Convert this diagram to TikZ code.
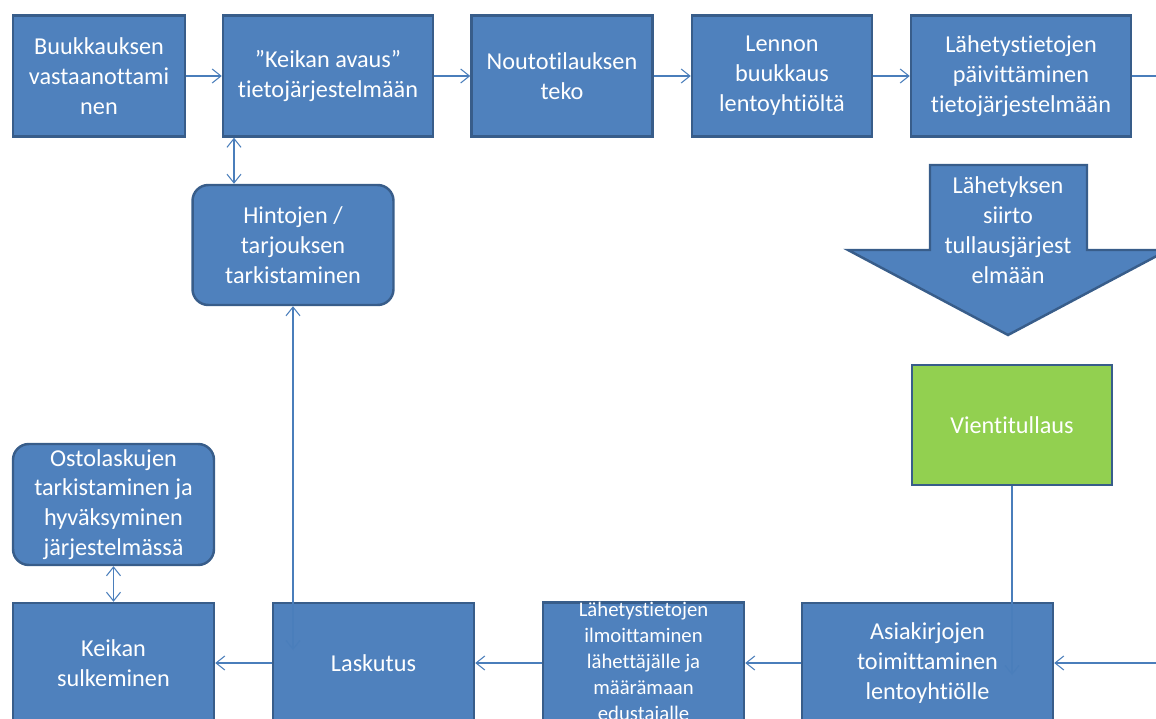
\documentclass[tikz,border=0pt]{standalone}
\usepackage{fontspec}
\setmainfont{Carlito}[Ligatures=NoCommon]
\usetikzlibrary{arrows.meta}
\definecolor{BoxBlue}{RGB}{79,129,189}
\definecolor{BoxEdge}{RGB}{56,93,138}
\definecolor{LineBlue}{RGB}{74,126,187}
\definecolor{CustGreen}{RGB}{146,208,80}

\begin{document}
\begin{tikzpicture}[x=0.02cm, y=-0.02cm,
    stage/.style={rectangle, draw=BoxEdge, line width=1.4pt, fill=BoxBlue,
                  text=white, minimum height=2.42cm, align=center, inner sep=1pt,
                  font=\fontsize{13.8}{17}\selectfont},
    check/.style={stage, rounded corners=9pt},
    arr/.style={-{Straight Barb[length=5pt, width=8pt]}, LineBlue, line width=0.6pt},
    both/.style={{Straight Barb[length=5pt, width=8pt]}-{Straight Barb[length=5pt, width=8pt]},
                 LineBlue, line width=0.6pt}
  ]
  \useasboundingbox (0,0) rectangle (1156,719);
  \clip (0,0) rectangle (1156,719);

  % Top row
  \node[stage, minimum width=3.44cm] (buuk)  at (99,76)   {Buukkauksen\\vastaanottami\\nen};
  \node[stage, minimum width=4.2cm]  (avaus) at (328,76)  {”Keikan avaus”\\tietojärjestelmään};
  \node[stage, minimum width=3.62cm] (nouto) at (562,76)  {Noutotilauksen\\teko};
  \node[stage, minimum width=3.6cm]  (lento) at (782,76)  {Lennon\\buukkaus\\lentoyhtiöltä};
  \node[stage, minimum width=4.4cm]  (paiv)  at (1021,76) {Lähetystietojen\\päivittäminen\\tietojärjestelmään};
  \coordinate (ulos) at (1170,76);

  \node[check, minimum width=4.02cm, minimum height=2.4cm] (hinta) at (293,245)
        {Hintojen /\\tarjouksen\\tarkistaminen};

  % Transfer to customs
  \draw[draw=BoxEdge, line width=1.4pt, fill=BoxBlue]
        (930,165) -- (1087,165) -- (1087,250) -- (1168,250) -- (1008,335)
        -- (848,250) -- (930,250) -- cycle;
  \node[text=white, align=center, font=\fontsize{13.8}{17}\selectfont] (siirto) at (1008,230)
        {Lähetyksen\\siirto\\tullausjärjest\\elmään};

  \node[stage, fill=CustGreen, minimum width=4.0cm, minimum height=2.4cm] (vienti) at (1012,425)
        {Vientitullaus};

  \node[check, minimum width=4.02cm] (osto) at (113.5,504.5)
        {Ostolaskujen\\tarkistaminen ja\\hyväksyminen\\järjestelmässä};

  % Bottom row
  \node[stage, minimum width=4.02cm, minimum height=2.4cm] (keik) at (113.5,663) {Keikan\\sulkeminen};
  \node[stage, minimum width=4.02cm, minimum height=2.4cm] (lask) at (373.5,663) {Laskutus};
  \node[stage, minimum width=4.02cm, minimum height=2.4cm, inner sep=0pt,
        font=\fontsize{11.8}{14.7}\selectfont] (ilmo) at (643.5,663)
        {Lähetystietojen\\ilmoittaminen\\lähettäjälle ja\\määrämaan\\edustajalle};
  \node[stage, minimum width=5.02cm, minimum height=2.4cm] (asia) at (927.5,663)
        {Asiakirjojen\\toimittaminen\\lentoyhtiölle};
  \coordinate (sisaan) at (1170,663);
  \coordinate (asia-in) at (1012,675);
  \coordinate (lask-in) at (293,650);

  % Flow along the top
  \draw[arr] (buuk) -- (avaus);
  \draw[arr] (avaus) -- (nouto);
  \draw[arr] (nouto) -- (lento);
  \draw[arr] (lento) -- (paiv);
  \draw[LineBlue, line width=0.6pt] (paiv) -- (ulos);

  % Flow along the bottom
  \draw[arr] (sisaan) -- (asia);
  \draw[arr] (vienti) -- (asia-in);
  \draw[arr] (asia) -- (ilmo);
  \draw[arr] (ilmo) -- (lask);
  \draw[arr] (lask) -- (keik);

  % Checks
  \draw[both] ([xshift=-1.18cm]hinta.north) -- ([xshift=-1.18cm]hinta.north |- avaus.south);
  \draw[both] (lask-in) -- (hinta);
  \draw[both] (osto) -- (keik);
\end{tikzpicture}
\end{document}
